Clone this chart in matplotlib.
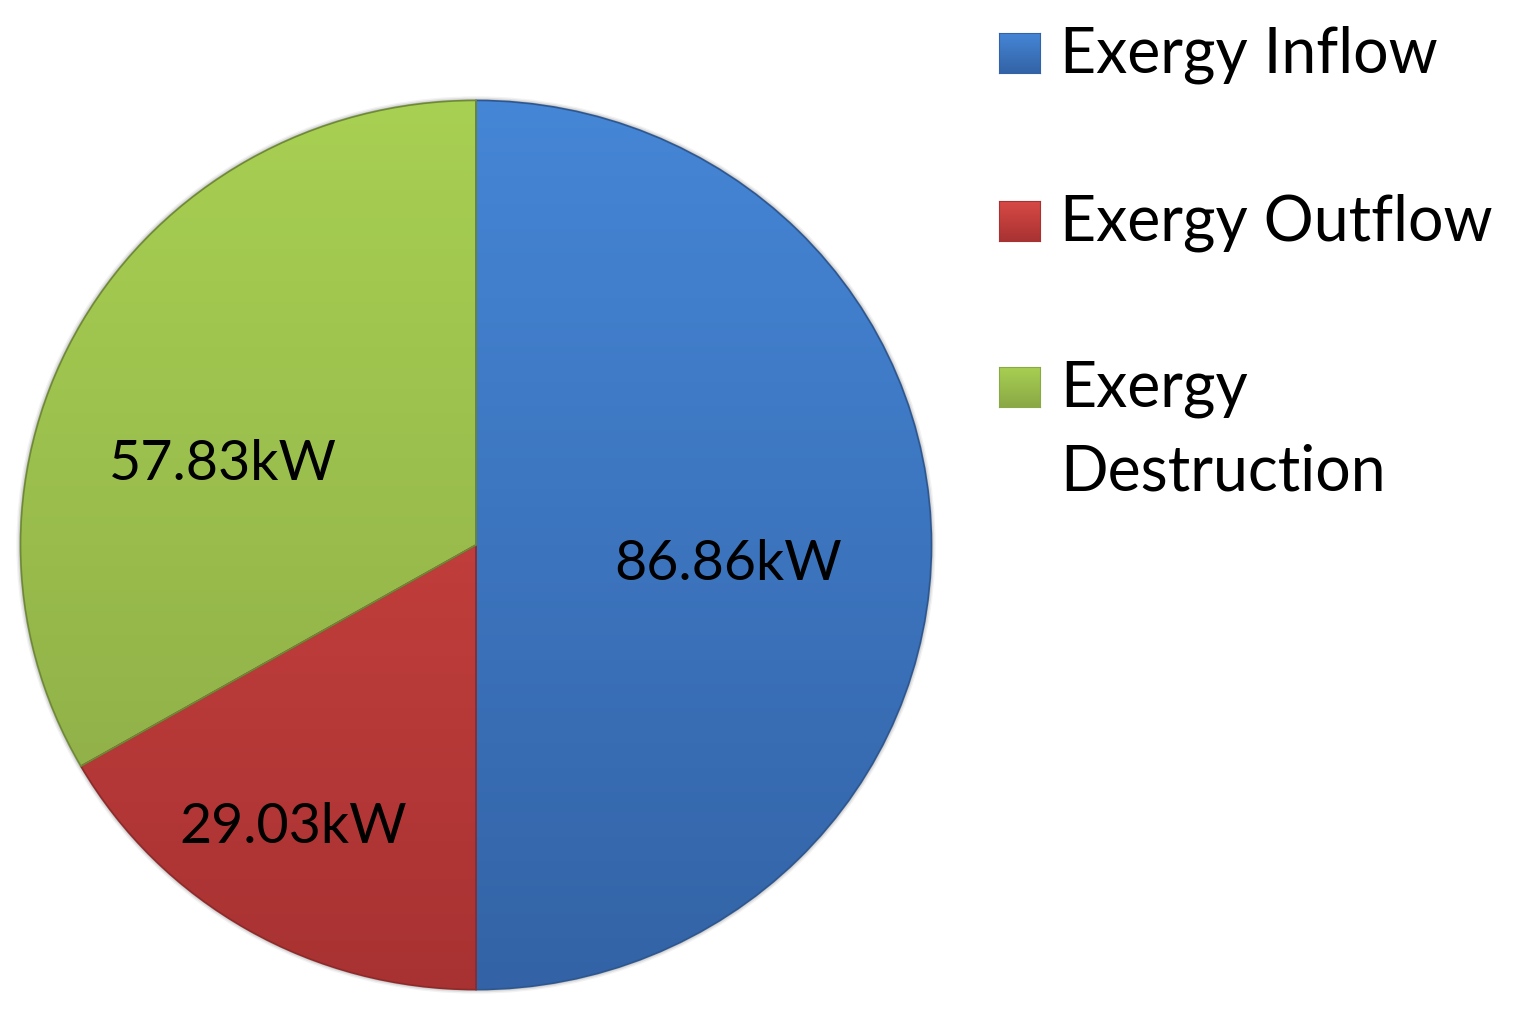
import numpy as np
import matplotlib.pyplot as plt
from matplotlib.colors import LinearSegmentedColormap
from matplotlib.patches import Circle

categorias = ['Exergy Inflow', 'Exergy Outflow', 'Exergy\nDestruction']
valores = [86.86, 29.03, 57.83]
rotulos = ['86.86kW', '29.03kW', '57.83kW']

# cores: topo e base do degradê de cada fatia
cores_topo = ['#4586d6', '#d84a45', '#a8d052']
cores_base = ['#3363a6', '#a83232', '#8aa846']
cores_borda = ['#2d5791', '#8f2a2a', '#6f8a36']

# posição dos rótulos (coordenadas do pie, raio = 1)
pos_rotulos = [(0.553, -0.079), (-0.401, -0.670), (-0.555, 0.146)]

plt.rcParams['font.family'] = ['Lato', 'DejaVu Sans']

W, H = 1517, 1022
fig = plt.figure(figsize=(W / 100, H / 100), dpi=100)
ax = fig.add_axes([16 / W, 28 / H, 920 / W, 898 / H])

fatias, _ = ax.pie(valores, startangle=90, counterclock=False, radius=1,
                   wedgeprops=dict(linewidth=1.2))

# sombra suave em volta da pizza
for lw, a in [(6, 0.05), (4, 0.08), (2, 0.15)]:
    ax.add_patch(Circle((0, 0), 1, facecolor='none', edgecolor='black',
                        linewidth=lw, alpha=a, zorder=0))

grad = np.linspace(0, 1, 256).reshape(-1, 1)
for fatia, c1, c2, cb in zip(fatias, cores_topo, cores_base, cores_borda):
    cmap = LinearSegmentedColormap.from_list('g', [c2, c1])
    im = ax.imshow(grad, extent=(-1, 1, -1, 1), origin='lower', cmap=cmap,
                   aspect='auto', zorder=1)
    im.set_clip_path(fatia)
    fatia.set_facecolor('none')
    fatia.set_edgecolor(cb)
    fatia.set_zorder(2)

for txt, (x, y) in zip(rotulos, pos_rotulos):
    ax.text(x, y, txt, ha='center', va='baseline', fontsize=40, color='black', zorder=3)

ax.set_aspect('auto')
ax.set_xlim(-1.01, 1.01)
ax.set_ylim(-1.01, 1.01)
ax.axis('off')

# legenda feita à mão
base_linhas = [73, 241, 407]
for nome, c1, c2, yb in zip(categorias, cores_topo, cores_base, base_linhas):
    lax = fig.add_axes([999 / W, (H - yb) / H, 41 / W, 40 / H])
    cmap = LinearSegmentedColormap.from_list('g', [c2, c1])
    lax.imshow(grad, extent=(0, 1, 0, 1), origin='lower', cmap=cmap, aspect='auto')
    lax.set_xticks([])
    lax.set_yticks([])
    for s in lax.spines.values():
        s.set_color(c2)
    fig.text(1060 / W, (H - yb) / H, nome.split('\n')[0], ha='left', va='baseline',
             fontsize=45, color='black')
    if '\n' in nome:
        fig.text(1060 / W, (H - yb - 83) / H, nome.split('\n')[1], ha='left',
                 va='baseline', fontsize=45, color='black')

fig.savefig('out.png', dpi=100, facecolor='white')
